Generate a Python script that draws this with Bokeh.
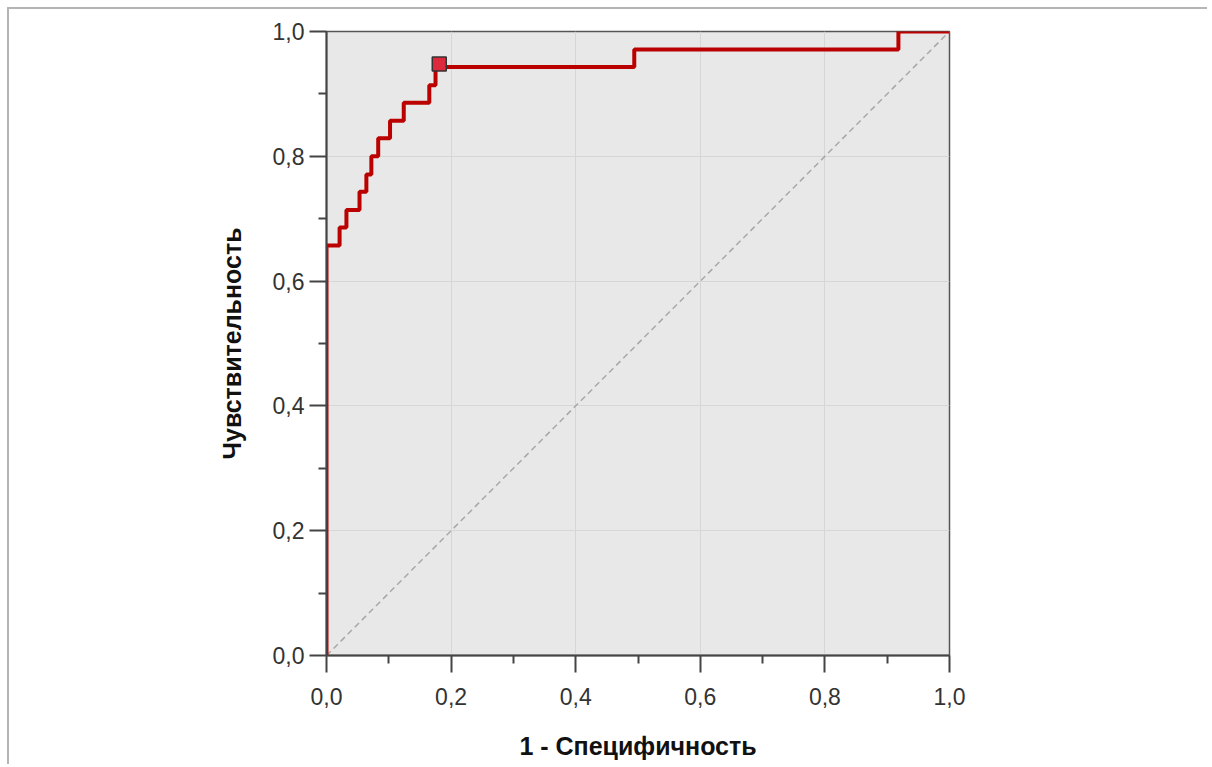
from bokeh.plotting import figure
from bokeh.embed import file_html
from bokeh.resources import INLINE
from bokeh.models import FixedTicker, CustomJSTickFormatter

# ROC curve step vertices (mode="after")
fpr = [0.0, 0.0, 0.021, 0.032, 0.053, 0.064, 0.072, 0.083, 0.102, 0.124, 0.165, 0.175, 0.494, 0.918, 1.0]
tpr = [0.0, 0.657, 0.686, 0.714, 0.743, 0.771, 0.800, 0.829, 0.857, 0.886, 0.914, 0.943, 0.971, 1.0, 1.0]
# optimal cut-off point
cut_x = [0.181]
cut_y = [0.948]
# reference diagonal
diag_x = [0.0, 1.0]
diag_y = [0.0, 1.0]
ticks = [0.0, 0.2, 0.4, 0.6, 0.8, 1.0]
minor = [0.1, 0.3, 0.5, 0.7, 0.9]

p = figure(width=1200, height=757, output_backend="svg", toolbar_location=None,
           x_range=(0, 1), y_range=(0, 1),
           min_border_left=317, min_border_right=260, min_border_top=22, min_border_bottom=111)
p.styles = {"border-top": "2px solid #b4b4b4", "border-left": "2px solid #b4b4b4",
            "margin-top": "7px", "margin-left": "7px"}
p.background_fill_color = "#e8e8e8"
p.border_fill_color = "white"
p.outline_line_color = "#555555"
p.outline_line_width = 1.5

fmt = CustomJSTickFormatter(code="return tick.toFixed(1).replace('.', ',');")
for ax in (p.xaxis[0], p.yaxis[0]):
    ax.ticker = FixedTicker(ticks=ticks, minor_ticks=minor)
    ax.formatter = fmt
    ax.axis_line_color = "#444444"
    ax.axis_line_width = 2
    ax.major_tick_line_color = "#444444"
    ax.major_tick_line_width = 2
    ax.minor_tick_line_color = "#444444"
    ax.minor_tick_line_width = 2
    ax.major_tick_out = 17
    ax.major_tick_in = 0
    ax.minor_tick_out = 8
    ax.minor_tick_in = 0
    ax.major_label_text_font = "Liberation Sans"
    ax.major_label_text_font_size = "23px"
    ax.major_label_text_color = "#333333"
    ax.axis_label_text_font = "Liberation Sans"
    ax.axis_label_text_font_size = "25px"
    ax.axis_label_text_font_style = "bold"
    ax.axis_label_text_color = "#111111"

p.xaxis.axis_label = "1 - Специфичность"
p.yaxis.axis_label = "Чувствительность"
p.xaxis.major_label_standoff = 15
p.yaxis.major_label_standoff = 5
p.xaxis.axis_label_standoff = 24
p.yaxis.axis_label_standoff = 24

p.grid.grid_line_color = "#d6d6d6"
p.grid.grid_line_width = 1
p.xgrid.ticker = FixedTicker(ticks=ticks)
p.ygrid.ticker = FixedTicker(ticks=ticks)

p.line(diag_x, diag_y, line_color="#a8a8a8", line_width=1.5, line_dash="6 4")
p.step(fpr, tpr, mode="after", line_color="#bb0000", line_width=4)
p.scatter(cut_x, cut_y, marker="square", size=14, fill_color="#dc2a3c",
          line_color="#333333", line_width=1.5)

open("out.html", "w").write(file_html(p, INLINE))
